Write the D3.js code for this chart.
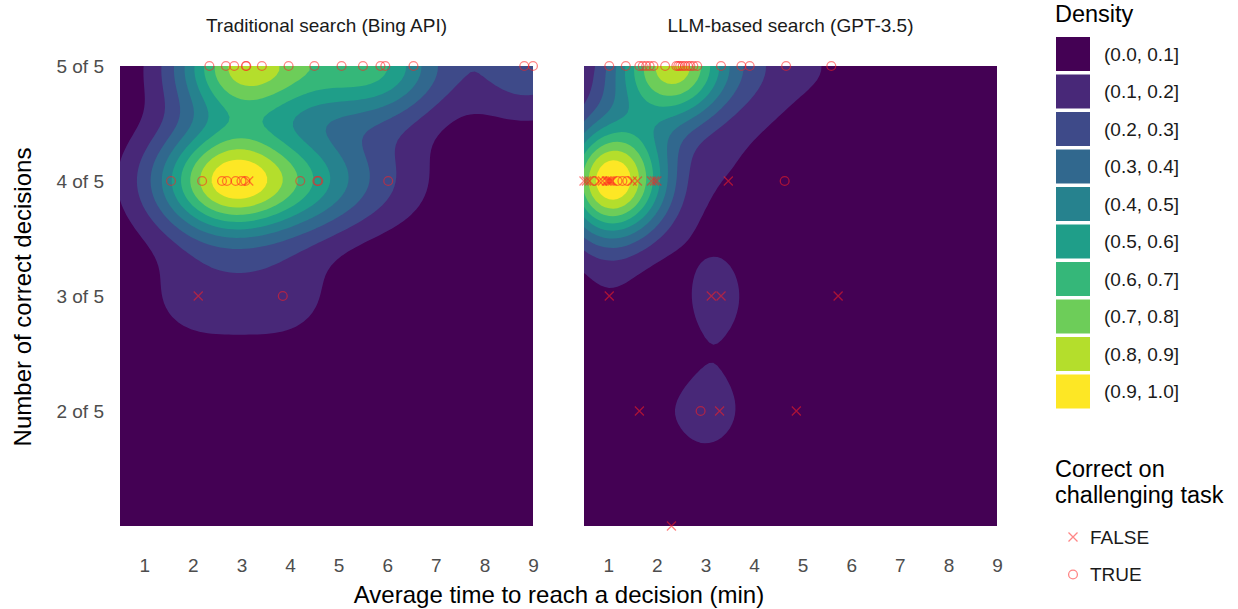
<!DOCTYPE html>
<html>
<head>
<meta charset="utf-8">
<script src="https://cdn.jsdelivr.net/npm/d3@7"></script>
<style>
  body { margin: 0; background: #fff; }
  svg { display: block; font-family: "Liberation Sans", Arial, Helvetica, sans-serif; }
</style>
</head>
<body>
<svg id="chart" width="1238" height="609"></svg>
<script>
// ---- data -------------------------------------------------------------
const panelTitles = ["Traditional search (Bing API)", "LLM-based search (GPT-3.5)"];

// Traditional search: average minutes per decision, correct decisions (of 5), challenging-task outcome
const bingTime = [
  2.34, 2.68, 2.85, 3.09, 3.10, 3.42, 3.97, 4.50, 5.06, 5.50, 5.86, 5.96, 6.54, 8.82, 9.00,
  1.55, 2.19, 2.60, 2.70, 2.88, 3.00, 3.08, 3.15, 4.21, 4.56, 4.58, 6.02,
  2.11, 3.85
];
const bingCorrect = [
  5, 5, 5, 5, 5, 5, 5, 5, 5, 5, 5, 5, 5, 5, 5,
  4, 4, 4, 4, 4, 4, 4, 4, 4, 4, 4, 4,
  3, 3
];
const bingChallenge = [
  true, true, true, true, true, true, true, true, true, true, true, true, true, true, true,
  true, true, true, true, true, true, true, false, true, true, true, true,
  false, true
];

// LLM-based search
const gptTime = [
  1.02, 1.36, 1.64, 1.71, 1.78, 1.85, 1.93, 2.17, 2.40, 2.44, 2.48, 2.53, 2.58, 2.64, 2.69, 2.75, 2.83, 3.32, 3.74, 3.91, 4.66, 5.59,
  0.50, 0.55, 0.61, 0.71, 0.81, 0.88, 0.96, 0.99, 1.02, 1.05, 1.08, 1.19, 1.29, 1.39, 1.49, 1.60, 1.89, 1.95, 2.00, 3.47, 4.63,
  1.02, 3.12, 3.32, 5.73,
  1.64, 2.90, 3.29, 4.87,
  2.30
];
const gptCorrect = [
  5, 5, 5, 5, 5, 5, 5, 5, 5, 5, 5, 5, 5, 5, 5, 5, 5, 5, 5, 5, 5, 5,
  4, 4, 4, 4, 4, 4, 4, 4, 4, 4, 4, 4, 4, 4, 4, 4, 4, 4, 4, 4, 4,
  3, 3, 3, 3,
  2, 2, 2, 2,
  1
];
const gptChallenge = [
  true, true, true, true, true, true, true, true, true, true, true, true, true, true, true, true, true, true, true, true, true, true,
  false, false, false, true, false, false, false, false, false, false, false, true, true, true, false, false, false, false, false, false, true,
  false, false, false, false,
  false, true, false, false,
  false
];

const xTicks = [1, 2, 3, 4, 5, 6, 7, 8, 9];
const yTicks = [2, 3, 4, 5];
const yTickLabels = ["2 of 5", "3 of 5", "4 of 5", "5 of 5"];

const densityBreaks = [0, 0.1, 0.2, 0.3, 0.4, 0.5, 0.6, 0.7, 0.8, 0.9, 1.0];
const densityLabels = ["(0.0, 0.1]", "(0.1, 0.2]", "(0.2, 0.3]", "(0.3, 0.4]", "(0.4, 0.5]",
                       "(0.5, 0.6]", "(0.6, 0.7]", "(0.7, 0.8]", "(0.8, 0.9]", "(0.9, 1.0]"];
const densityColors = ["#440154", "#482878", "#3E4A89", "#31688E", "#26828E",
                       "#1F9E89", "#35B779", "#6DCD59", "#B4DE2C", "#FDE725"];
const outcomeLabels = ["FALSE", "TRUE"];

// ---- helpers ----------------------------------------------------------
const panels = [
  { title: panelTitles[0], t: bingTime, c: bingCorrect, ch: bingChallenge },
  { title: panelTitles[1], t: gptTime, c: gptCorrect, ch: gptChallenge }
];

// normal reference bandwidth (as in MASS::bandwidth.nrd)
function bandwidthNrd(v) {
  const s = d3.sort(v);
  const iqr = d3.quantileSorted(s, 0.75) - d3.quantileSorted(s, 0.25);
  return 4 * 1.06 * Math.min(d3.deviation(v), iqr / 1.34) * Math.pow(v.length, -0.2);
}

// bivariate gaussian kernel density on an n x n grid (as in MASS::kde2d)
function kde2d(xs, ys, xr, yr, n) {
  const hx = bandwidthNrd(xs) / 4, hy = bandwidthNrd(ys) / 4;
  const gx = d3.range(n).map(i => xr[0] + i * (xr[1] - xr[0]) / (n - 1));
  const gy = d3.range(n).map(j => yr[0] + j * (yr[1] - yr[0]) / (n - 1));
  const phi = z => Math.exp(-0.5 * z * z) / Math.sqrt(2 * Math.PI);
  const ax = xs.map(x => gx.map(g => phi((g - x) / hx) / hx));
  const ay = ys.map(y => gy.map(g => phi((g - y) / hy) / hy));
  const values = new Float64Array(n * n);
  for (let j = 0; j < n; j++) {
    for (let i = 0; i < n; i++) {
      let s = 0;
      for (let k = 0; k < xs.length; k++) s += ax[k][i] * ay[k][j];
      values[j * n + i] = s / xs.length;
    }
  }
  return values;
}

function drawCross(sel, cx, cy, s) {
  return sel.append("path")
    .attr("d", `M${cx - s},${cy - s}L${cx + s},${cy + s}M${cx - s},${cy + s}L${cx + s},${cy - s}`)
    .attr("fill", "none").attr("stroke", "#ff2020").attr("stroke-opacity", 0.55).attr("stroke-width", 1.3);
}
function drawRing(sel, cx, cy, r) {
  return sel.append("circle").attr("cx", cx).attr("cy", cy).attr("r", r)
    .attr("fill", "none").attr("stroke", "#ff2020").attr("stroke-opacity", 0.55).attr("stroke-width", 1.3);
}

// ---- layout -----------------------------------------------------------
const svg = d3.select("#chart");
const allT = bingTime.concat(gptTime);
const allC = bingCorrect.concat(gptCorrect);
const xDomain = d3.extent(allT);
const yDomain = d3.extent(allC);
const panelLeft = [120, 584];
const panelWidth = 413;
const panelTop = 66, panelBottom = 526;
const y = d3.scaleLinear().domain(yDomain).range([panelBottom, panelTop]);
const N = 100;
const tickFont = 19;

panels.forEach((p, idx) => {
  const x0 = panelLeft[idx];
  const x = d3.scaleLinear().domain(xDomain).range([x0, x0 + panelWidth]);
  const g = svg.append("g");

  const clipId = "clip" + idx;
  svg.append("clipPath").attr("id", clipId)
    .append("rect").attr("x", x0).attr("y", panelTop)
    .attr("width", panelWidth).attr("height", panelBottom - panelTop);

  const grid = kde2d(p.t, p.c, xDomain, yDomain, N);
  const maxD = d3.max(grid);
  const nd = Array.from(grid, v => v / maxD);

  const stepX = (xDomain[1] - xDomain[0]) / (N - 1);
  const stepY = (yDomain[1] - yDomain[0]) / (N - 1);
  const proj = d3.geoTransform({
    point(px, py) {
      this.stream.point(x(xDomain[0] + (px - 0.5) * stepX), y(yDomain[0] + (py - 0.5) * stepY));
    }
  });
  const path = d3.geoPath(proj);

  const layer = g.append("g").attr("clip-path", `url(#${clipId})`);
  layer.append("rect")
    .attr("x", x0).attr("y", panelTop).attr("width", panelWidth).attr("height", panelBottom - panelTop)
    .attr("fill", densityColors[0]);

  const bands = d3.contours().size([N, N]).smooth(true)
    .thresholds(densityBreaks.slice(1, -1))(nd);
  layer.selectAll("path.band").data(bands).join("path")
    .attr("class", "band")
    .attr("d", path)
    .attr("fill", (d, i) => densityColors[i + 1]);

  // facet title
  g.append("text")
    .attr("x", x0 + panelWidth / 2).attr("y", 32)
    .attr("text-anchor", "middle").attr("font-size", 19).attr("fill", "#1A1A1A")
    .text(p.title);

  // x axis
  const xa = g.append("g").attr("transform", `translate(0,556)`)
    .call(d3.axisBottom(x).tickValues(xTicks).tickSize(0).tickPadding(2));
  xa.select(".domain").remove();
  xa.selectAll("text").attr("font-size", tickFont).attr("fill", "#4D4D4D")
    .attr("font-family", "Liberation Sans, Arial, sans-serif");

  // points
  const pg = g.append("g");
  p.t.forEach((t, k) => {
    const cx = x(t), cy = y(p.c[k]);
    if (p.ch[k]) drawRing(pg, cx, cy, 4.4);
    else drawCross(pg, cx, cy, 4.5);
  });
});

// y axis
const ya = svg.append("g").attr("transform", "translate(108,0)")
  .call(d3.axisLeft(y).tickValues(yTicks).tickFormat((d, i) => yTickLabels[i]).tickSize(0).tickPadding(4));
ya.select(".domain").remove();
ya.selectAll("text").attr("font-size", tickFont).attr("fill", "#4D4D4D")
  .attr("font-family", "Liberation Sans, Arial, sans-serif");

// axis titles
svg.append("text").attr("x", 559).attr("y", 603)
  .attr("text-anchor", "middle").attr("font-size", 24).attr("fill", "#000")
  .text("Average time to reach a decision (min)");
svg.append("text").attr("transform", "translate(31,297) rotate(-90)")
  .attr("text-anchor", "middle").attr("font-size", 24).attr("fill", "#000")
  .text("Number of correct decisions");

// density legend
const lg = svg.append("g");
lg.append("text").attr("x", 1055).attr("y", 22).attr("font-size", 23.5).attr("fill", "#000").text("Density");
densityLabels.forEach((lab, i) => {
  const ky = 37 + i * 37.5;
  lg.append("rect").attr("x", 1056).attr("y", ky).attr("width", 34).attr("height", 34)
    .attr("fill", densityColors[i]);
  lg.append("text").attr("x", 1104).attr("y", ky + 17).attr("dy", "0.35em")
    .attr("font-size", 19).attr("fill", "#1A1A1A").text(lab);
});

// outcome legend
const og = svg.append("g");
og.append("text").attr("x", 1055).attr("y", 477).attr("font-size", 23.5).attr("fill", "#000").text("Correct on");
og.append("text").attr("x", 1055).attr("y", 503).attr("font-size", 23.5).attr("fill", "#000").text("challenging task");
outcomeLabels.forEach((lab, i) => {
  const cy = 537 + i * 37.5, cx = 1073;
  if (i === 0) drawCross(og, cx, cy, 4.5);
  else drawRing(og, cx, cy, 4.4);
  og.append("text").attr("x", 1090).attr("y", cy).attr("dy", "0.35em")
    .attr("font-size", 19).attr("fill", "#1A1A1A").text(lab);
});
</script>
</body>
</html>
